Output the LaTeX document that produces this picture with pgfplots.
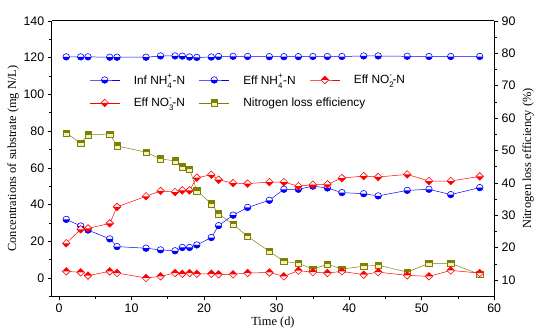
\documentclass[border=0pt]{standalone}
\usepackage{pgfplots}
\pgfplotsset{compat=1.18}
\usepackage{fontspec}
\setmainfont{Liberation Sans}
\newfontfamily\serif{Liberation Serif}
\definecolor{olv}{RGB}{128,128,0}
\definecolor{olvl}{RGB}{240,240,200}
\makeatletter
\pgfdeclareplotmark{hcircB}{%
  \pgfpathcircle{\pgfpointorigin}{\pgfplotmarksize}%
  \pgfusepathqfill
  \begin{pgfscope}%
  \pgfsetfillcolor{.}%
  \pgfpathmoveto{\pgfqpoint{\pgfplotmarksize}{0pt}}%
  \pgfpatharc{0}{-180}{\pgfplotmarksize}%
  \pgfpathclose
  \pgfusepathqfill
  \end{pgfscope}%
  \pgfpathcircle{\pgfpointorigin}{\pgfplotmarksize}%
  \pgfusepathqstroke
}
\pgfdeclareplotmark{hdiaT}{%
  \pgfpathmoveto{\pgfqpoint{0pt}{\pgfplotmarksize}}%
  \pgfpathlineto{\pgfqpoint{\pgfplotmarksize}{0pt}}%
  \pgfpathlineto{\pgfqpoint{0pt}{-\pgfplotmarksize}}%
  \pgfpathlineto{\pgfqpoint{-\pgfplotmarksize}{0pt}}%
  \pgfpathclose
  \pgfusepathqfill
  \begin{pgfscope}%
  \pgfsetfillcolor{.}%
  \pgfpathmoveto{\pgfqpoint{0pt}{\pgfplotmarksize}}%
  \pgfpathlineto{\pgfqpoint{\pgfplotmarksize}{0pt}}%
  \pgfpathlineto{\pgfqpoint{-\pgfplotmarksize}{0pt}}%
  \pgfpathclose
  \pgfusepathqfill
  \end{pgfscope}%
  \pgfpathmoveto{\pgfqpoint{0pt}{\pgfplotmarksize}}%
  \pgfpathlineto{\pgfqpoint{\pgfplotmarksize}{0pt}}%
  \pgfpathlineto{\pgfqpoint{0pt}{-\pgfplotmarksize}}%
  \pgfpathlineto{\pgfqpoint{-\pgfplotmarksize}{0pt}}%
  \pgfpathclose
  \pgfusepathqstroke
}
\pgfdeclareplotmark{hdiaB}{%
  \pgfpathmoveto{\pgfqpoint{0pt}{\pgfplotmarksize}}%
  \pgfpathlineto{\pgfqpoint{\pgfplotmarksize}{0pt}}%
  \pgfpathlineto{\pgfqpoint{0pt}{-\pgfplotmarksize}}%
  \pgfpathlineto{\pgfqpoint{-\pgfplotmarksize}{0pt}}%
  \pgfpathclose
  \pgfusepathqfill
  \begin{pgfscope}%
  \pgfsetfillcolor{.}%
  \pgfpathmoveto{\pgfqpoint{0pt}{-\pgfplotmarksize}}%
  \pgfpathlineto{\pgfqpoint{\pgfplotmarksize}{0pt}}%
  \pgfpathlineto{\pgfqpoint{-\pgfplotmarksize}{0pt}}%
  \pgfpathclose
  \pgfusepathqfill
  \end{pgfscope}%
  \pgfpathmoveto{\pgfqpoint{0pt}{\pgfplotmarksize}}%
  \pgfpathlineto{\pgfqpoint{\pgfplotmarksize}{0pt}}%
  \pgfpathlineto{\pgfqpoint{0pt}{-\pgfplotmarksize}}%
  \pgfpathlineto{\pgfqpoint{-\pgfplotmarksize}{0pt}}%
  \pgfpathclose
  \pgfusepathqstroke
}
\pgfdeclareplotmark{hsqT}{%
  \pgfpathrectangle{\pgfqpoint{-\pgfplotmarksize}{-\pgfplotmarksize}}{\pgfqpoint{2\pgfplotmarksize}{2\pgfplotmarksize}}%
  \pgfusepathqfill
  \begin{pgfscope}%
  \pgfsetfillcolor{.}%
  \pgfpathrectangle{\pgfqpoint{-\pgfplotmarksize}{0pt}}{\pgfqpoint{2\pgfplotmarksize}{\pgfplotmarksize}}%
  \pgfusepathqfill
  \end{pgfscope}%
  \pgfpathrectangle{\pgfqpoint{-\pgfplotmarksize}{-\pgfplotmarksize}}{\pgfqpoint{2\pgfplotmarksize}{2\pgfplotmarksize}}%
  \pgfusepathqstroke
}
\makeatother
\newcommand{\subsup}[2]{\rlap{\raisebox{-0.35ex}{\textsubscript{#1}}}\raisebox{0.25ex}{\textsuperscript{#2}}}
\newcommand{\NH}{NH\subsup{4}{+}-N}
\newcommand{\NOt}{NO\subsup{2}{-}-N}
\newcommand{\NOh}{NO\subsup{3}{-}-N}
\begin{document}
\begin{tikzpicture}
\path (0bp,0bp) rectangle (537bp,335bp);
\pgfplotsset{
  every axis/.style={
    scale only axis, width=445bp, height=277bp,
    xmin=-1, xmax=60,
    tick align=outside,
    tick style={black, line width=0.6pt},
    major tick length=4bp, minor tick length=2.5bp,
    axis line style={line width=0.8pt},
    tick label style={font=\fontsize{12.5}{13}\selectfont},
    /pgf/number format/assume math mode=true,
    label style={font=\serif\fontsize{12.5}{13}\selectfont},
  }
}
\begin{axis}[
  at={(52bp,37bp)}, anchor=south west,
  axis x line=none, axis y line*=right,
  ymin=5, ymax=90, ytick={10,20,...,90}, minor ytick={15,25,...,85},
  ylabel={Nitrogen loss efficiency (\%)},
]
\addplot[olv, line width=0.5pt, mark=hsqT, mark size=3.2bp, mark options={fill=olvl, line width=0.6pt}] coordinates {
(1,55.4)(3,52.3)(4,54.8)(7,55.1)(8,51.4)(12,49.5)(14,47.4)(16,46.8)(17,45.0)(18,44.3)
(19,37.6)(21,33.6)(22,30.5)(24,27.2)(26,23.5)(29,18.9)(31,15.8)(33,15.2)(35,13.4)(37,14.9)
(39,13.4)(42,14.3)(44,14.6)(48,12.5)(51,15.2)(54,15.2)(58,11.8)};
\end{axis}
\begin{axis}[
  at={(52bp,37bp)}, anchor=south west,
  axis y line*=left, axis x line*=bottom,
  ymin=-10, ymax=140, ytick={0,20,...,140}, minor ytick={-10,10,...,130},
  xtick={0,10,...,60}, minor xtick={5,15,...,55},
  xlabel={Time (d)}, ylabel={Concentrations of substrate (mg N/L)},
  xlabel style={yshift=3bp},
  ylabel style={yshift=-2bp},
  legend style={draw=none, fill=none, inner sep=0pt, at={(0.085,0.815)}, anchor=north west,
    font=\fontsize{12}{13}\selectfont, column sep=12bp, row sep=8bp},
  legend columns=3,
  legend cell align=left,
  legend image code/.code={\draw[mark repeat=2,mark phase=2,#1] plot coordinates {(0bp,0bp)(15bp,0bp)(30bp,0bp)};},
  every axis plot/.append style={line width=0.5pt},
]
\draw[line width=0.8pt] (rel axis cs:0,1) -- (rel axis cs:1,1);
\addplot[blue, mark=hcircB, mark size=3.3bp, mark options={fill=white, line width=0.6pt}] coordinates {
(1,120.4)(3,120.4)(4,120.4)(7,120.2)(8,120.2)(12,120.2)(14,120.9)(16,120.9)(17,120.8)(18,120.3)
(19,120.1)(21,120.3)(22,120.6)(24,120.7)(26,120.6)(29,120.5)(31,120.5)(33,120.5)(35,120.6)(37,120.6)
(39,120.6)(42,120.9)(44,120.9)(48,120.7)(51,120.6)(54,120.6)(58,120.6)};
\addlegendentry{Inf \NH}
\addplot[blue, mark=hcircB, mark size=3.3bp, mark options={fill=white, line width=0.6pt}] coordinates {
(1,31.9)(3,28.3)(4,26.1)(7,21.3)(8,17.1)(12,16.2)(14,15.3)(16,14.8)(17,16.6)(18,16.6)
(19,18.0)(21,22.0)(22,28.5)(24,34.2)(26,38.4)(29,42.3)(31,48.3)(33,48.3)(35,50.0)(37,49.0)
(39,46.5)(42,45.9)(44,44.7)(48,47.7)(51,48.3)(54,45.4)(58,49.2)};
\addlegendentry{Eff \NH}
\addplot[red, mark=hdiaT, mark size=3.8bp, mark options={fill=white, line width=0.6pt}] coordinates {
(1,3.6)(3,3.1)(4,1.3)(7,3.6)(8,2.7)(12,0.0)(14,0.9)(16,2.7)(17,2.3)(18,2.7)
(19,2.3)(21,2.3)(22,2.0)(24,2.0)(26,2.7)(29,3.0)(31,0.9)(33,4.0)(35,3.2)(37,2.7)
(39,3.6)(42,1.8)(44,3.2)(48,1.4)(51,0.9)(54,4.1)(58,2.7)};
\addlegendentry{Eff \NOt}
\addplot[red, mark=hdiaB, mark size=3.8bp, mark options={fill=white, line width=0.6pt}] coordinates {
(1,18.9)(3,26.5)(4,27.0)(7,29.7)(8,38.7)(12,44.5)(14,47.4)(16,46.8)(17,47.7)(18,47.7)
(19,54.6)(21,56.2)(22,53.5)(24,51.7)(26,51.4)(29,52.2)(31,52.2)(33,50.0)(35,50.8)(37,51.0)
(39,54.4)(42,55.5)(44,55.0)(48,56.4)(51,52.8)(54,52.8)(58,55.3)};
\addlegendentry{Eff \NOh}
\addlegendimage{olv, line width=0.5pt, mark=hsqT, mark size=3.2bp, mark options={fill=olvl, line width=0.6pt}}
\addlegendentry{\makebox[0pt][l]{Nitrogen loss efficiency}}
\end{axis}
\end{tikzpicture}
\end{document}
